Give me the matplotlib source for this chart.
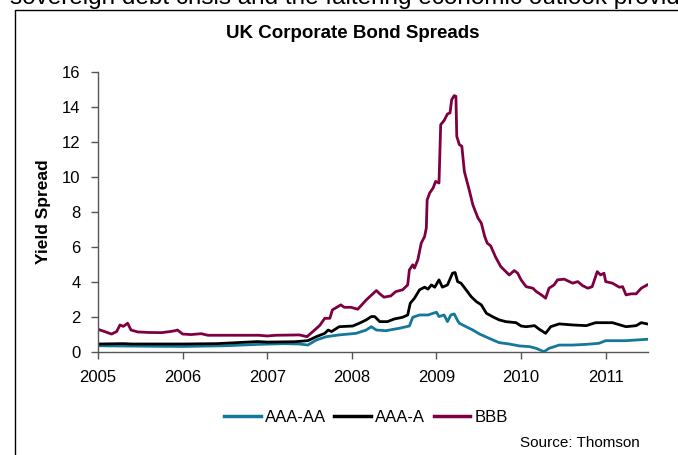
import matplotlib
matplotlib.use('Agg')
import matplotlib.pyplot as plt
from matplotlib.lines import Line2D

# data (decimal years, spread)
bbb_t = [2005.00, 2005.08, 2005.16, 2005.22, 2005.26, 2005.30, 2005.35, 2005.39, 2005.47, 2005.60,
         2005.75, 2005.85, 2005.91, 2005.94, 2006.00, 2006.10, 2006.22, 2006.30, 2006.60, 2006.90,
         2007.00, 2007.10, 2007.38, 2007.47, 2007.56, 2007.62, 2007.68, 2007.74, 2007.77, 2007.87,
         2007.91, 2007.99, 2008.07, 2008.17, 2008.29, 2008.33, 2008.38, 2008.46, 2008.52, 2008.60,
         2008.66, 2008.68, 2008.72, 2008.74, 2008.78, 2008.82, 2008.86, 2008.88, 2008.89, 2008.92,
         2008.96, 2008.99, 2009.03, 2009.05, 2009.09, 2009.13, 2009.16, 2009.18, 2009.21, 2009.23,
         2009.24, 2009.27, 2009.30, 2009.33, 2009.39, 2009.43, 2009.49, 2009.53, 2009.57, 2009.60,
         2009.64, 2009.70, 2009.76, 2009.82, 2009.86, 2009.92, 2009.96, 2010.00, 2010.06, 2010.14,
         2010.18, 2010.24, 2010.29, 2010.33, 2010.39, 2010.43, 2010.51, 2010.57, 2010.61, 2010.67,
         2010.73, 2010.79, 2010.84, 2010.90, 2010.94, 2010.98, 2011.00, 2011.08, 2011.16, 2011.20,
         2011.24, 2011.30, 2011.36, 2011.42, 2011.49]
bbb_v = [1.28, 1.15, 1.01, 1.15, 1.53, 1.45, 1.63, 1.24, 1.13, 1.10,
         1.09, 1.15, 1.20, 1.24, 1.01, 0.98, 1.03, 0.94, 0.94, 0.94,
         0.90, 0.94, 0.96, 0.86, 1.24, 1.50, 1.91, 1.91, 2.39, 2.68,
         2.54, 2.54, 2.43, 2.96, 3.50, 3.31, 3.12, 3.19, 3.44, 3.54,
         3.82, 4.68, 4.97, 4.78, 5.26, 6.21, 6.59, 7.07, 8.69, 9.08,
         9.36, 9.74, 9.65, 12.99, 13.22, 13.60, 13.66, 14.42, 14.65, 14.61,
         12.32, 11.85, 11.75, 10.30, 9.20, 8.40, 7.65, 7.36, 6.59, 6.21,
         6.06, 5.40, 4.87, 4.58, 4.39, 4.64, 4.49, 4.11, 3.72, 3.63,
         3.44, 3.25, 3.06, 3.63, 3.82, 4.11, 4.15, 4.01, 3.92, 4.01,
         3.77, 3.63, 3.72, 4.58, 4.39, 4.49, 4.01, 3.92, 3.69, 3.72,
         3.25, 3.31, 3.31, 3.63, 3.82]

aaa_a_t = [2005.00, 2005.30, 2005.40, 2006.00, 2006.40, 2006.73, 2006.89, 2007.00, 2007.32, 2007.48,
           2007.58, 2007.68, 2007.72, 2007.76, 2007.85, 2008.01, 2008.09, 2008.17, 2008.23, 2008.27,
           2008.33, 2008.42, 2008.50, 2008.60, 2008.66, 2008.69, 2008.74, 2008.80, 2008.86, 2008.90,
           2008.94, 2008.98, 2009.03, 2009.07, 2009.13, 2009.19, 2009.22, 2009.25, 2009.29, 2009.35,
           2009.41, 2009.47, 2009.53, 2009.59, 2009.66, 2009.74, 2009.82, 2009.94, 2010.00, 2010.06,
           2010.16, 2010.21, 2010.29, 2010.35, 2010.45, 2010.61, 2010.77, 2010.88, 2011.08, 2011.24,
           2011.36, 2011.42, 2011.49]
aaa_a_v = [0.44, 0.46, 0.44, 0.44, 0.46, 0.54, 0.58, 0.55, 0.57, 0.63,
           0.86, 1.05, 1.24, 1.15, 1.43, 1.47, 1.63, 1.82, 2.01, 2.01,
           1.72, 1.72, 1.87, 1.97, 2.10, 2.77, 3.06, 3.54, 3.69, 3.58,
           3.82, 3.69, 4.11, 3.69, 3.82, 4.49, 4.53, 4.01, 3.92, 3.54,
           3.15, 2.87, 2.68, 2.20, 2.01, 1.82, 1.72, 1.66, 1.47, 1.43,
           1.49, 1.30, 1.05, 1.43, 1.59, 1.53, 1.49, 1.66, 1.66, 1.43,
           1.49, 1.66, 1.59]

aaa_aa_t = [2005.00, 2005.40, 2006.00, 2006.50, 2006.90, 2007.20, 2007.38, 2007.48, 2007.58, 2007.70,
            2007.85, 2008.05, 2008.17, 2008.23, 2008.29, 2008.40, 2008.56, 2008.68, 2008.72, 2008.80,
            2008.90, 2009.00, 2009.03, 2009.09, 2009.13, 2009.17, 2009.21, 2009.25, 2009.27, 2009.35,
            2009.43, 2009.51, 2009.62, 2009.74, 2009.86, 2009.98, 2010.10, 2010.18, 2010.27, 2010.33,
            2010.45, 2010.61, 2010.77, 2010.92, 2011.00, 2011.24, 2011.49]
aaa_aa_v = [0.34, 0.32, 0.30, 0.34, 0.42, 0.46, 0.44, 0.38, 0.67, 0.86,
            0.96, 1.05, 1.24, 1.43, 1.24, 1.20, 1.34, 1.47, 1.97, 2.10,
            2.10, 2.26, 2.01, 2.10, 1.72, 2.10, 2.16, 1.78, 1.63, 1.43,
            1.24, 1.01, 0.77, 0.52, 0.44, 0.33, 0.29, 0.19, 0.00, 0.19,
            0.38, 0.38, 0.42, 0.48, 0.63, 0.63, 0.71]

years = [2005, 2006, 2007, 2008, 2009, 2010, 2011]
yticks = [0, 2, 4, 6, 8, 10, 12, 14, 16]

teal = '#13789A'
maroon = '#7E0040'

plt.rcParams['font.family'] = ['Liberation Sans', 'DejaVu Sans']

fig = plt.figure(figsize=(6.78, 4.55), dpi=100)
ax = fig.add_axes([98 / 678, 1 - 351.7 / 455, 550 / 678, (351.7 - 72) / 455])

ax.plot(aaa_aa_t, aaa_aa_v, color=teal, lw=2.0, label='AAA-AA')
ax.plot(aaa_a_t, aaa_a_v, color='black', lw=2.0, label='AAA-A')
ax.plot(bbb_t, bbb_v, color=maroon, lw=2.0, label='BBB')

ax.set_xlim(2005, 2011.5)
ax.set_ylim(0, 16)
ax.set_xticks(years)
ax.set_xticklabels([str(y) for y in years])
ax.set_yticks(yticks)
for s in ['top', 'right']:
    ax.spines[s].set_visible(False)
for s in ['left', 'bottom']:
    ax.spines[s].set_color('#555555')
    ax.spines[s].set_linewidth(1.0)
ax.tick_params(axis='both', direction='out', length=5, width=1.0, color='#555555',
               labelsize=12)
ax.tick_params(axis='y', pad=7.5)
ax.tick_params(axis='x', pad=8)

ax.set_ylabel('Yield Spread', fontsize=12.5, fontweight='bold')
ax.yaxis.set_label_coords((51 - 98) / 550, 0.5)

fig.text(353 / 678, 1 - 33 / 455, 'UK Corporate Bond Spreads', ha='center', va='center',
         fontsize=13.5, fontweight='bold')

# legend below the axis
handles = [Line2D([], [], color=teal, lw=2.5), Line2D([], [], color='black', lw=2.5),
           Line2D([], [], color=maroon, lw=2.5)]
fig.legend(handles, ['AAA-AA', 'AAA-A', 'BBB'], loc='center', ncol=3,
           bbox_to_anchor=(366 / 678, 1 - 417 / 455), frameon=False, handlelength=2.2,
           handletextpad=0.25, columnspacing=0.5, prop={'size': 12})

fig.text(640 / 678, 1 - 443 / 455, 'Source: Thomson', ha='right', va='center', fontsize=11)

# cut-off text from the page above the chart
fig.text(10 / 678, 1 - 4 / 455, 'sovereign debt crisis and the faltering economic outlook provid',
         ha='left', va='baseline', fontsize=17.5)

# frame around the chart
fig.add_artist(Line2D([15 / 678, 15 / 678, 1.0], [0.0, 1 - 10 / 455, 1 - 10 / 455],
                      color='black', lw=1.0, transform=fig.transFigure))

fig.savefig('out.png', dpi=100)
